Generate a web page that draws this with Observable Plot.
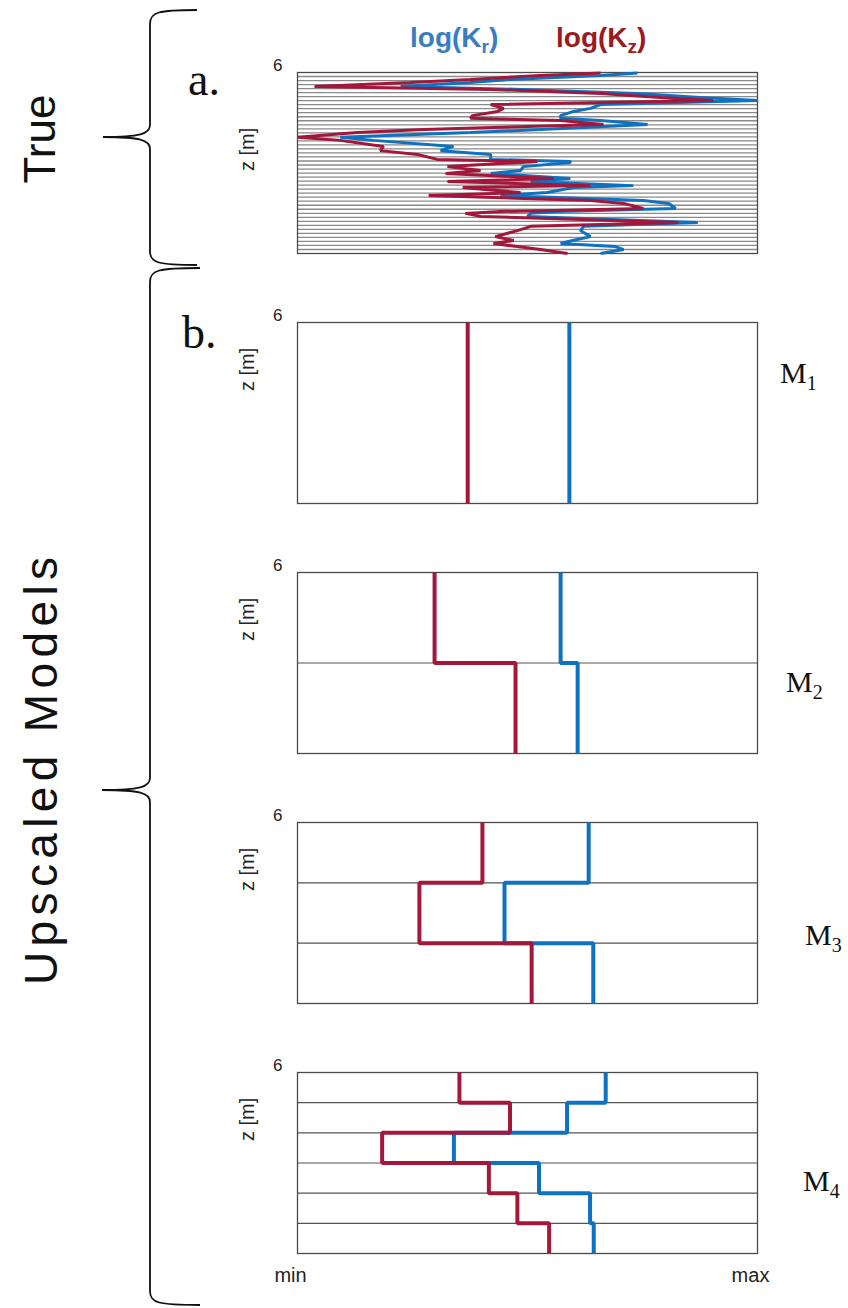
<!DOCTYPE html>
<html><head><meta charset="utf-8">
<script src="https://cdn.jsdelivr.net/npm/d3@7"></script>
<script src="https://cdn.jsdelivr.net/npm/@observablehq/plot@0.6"></script>
<style>
body{margin:0;background:#fff;}
#root{position:relative;width:848px;height:1308px;overflow:hidden;font-family:"Liberation Sans",Arial,sans-serif;}
.panel{position:absolute;left:0;}
#overlay{position:absolute;left:0;top:0;pointer-events:none;}
</style></head><body><div id="root"></div>
<script>
// ---------- data ----------
// True (fine-scale) profile: depth z [m] and normalised log K (0 = min, 1 = max)
const trueZ  = [5.98,5.90,5.77,5.67,5.54,5.44,5.30,5.17,5.07,4.94,4.81,4.71,4.57,4.48,4.41,4.28,4.11,4.01,3.85,3.75,3.55,3.41,3.28,3.12,3.05,3.02,2.88,2.75,2.65,2.49,2.39,2.25,2.19,2.02,1.92,1.76,1.66,1.49,1.39,1.33,1.23,1.03,0.90,0.76,0.56,0.43,0.33,0.23,0.13,0.00];
const trueKr = [0.739,0.659,0.463,0.376,0.224,0.485,0.739,0.876,1.000,0.659,0.637,0.600,0.572,0.572,0.659,0.761,0.528,0.376,0.093,0.165,0.339,0.311,0.420,0.420,0.593,0.593,0.491,0.485,0.420,0.593,0.507,0.730,0.600,0.543,0.441,0.752,0.807,0.822,0.565,0.507,0.500,0.870,0.622,0.615,0.637,0.598,0.572,0.691,0.709,0.659];
const trueKz = [0.659,0.528,0.376,0.246,0.037,0.420,0.659,0.789,0.904,0.420,0.448,0.435,0.380,0.376,0.572,0.665,0.274,0.130,0.000,0.093,0.187,0.180,0.261,0.304,0.522,0.485,0.326,0.398,0.322,0.557,0.326,0.637,0.359,0.485,0.285,0.637,0.709,0.752,0.441,0.365,0.398,0.828,0.507,0.478,0.430,0.470,0.426,0.478,0.528,0.587];
const trueLayerCount = 45;

// Upscaled models: one value per layer, layers listed top (z=6) to bottom (z=0)
const modelNames = ["M", "M", "M", "M"];
const modelSubs  = ["1", "2", "3", "4"];
const m1Kr = [0.591];
const m1Kz = [0.370];
const m2Kr = [0.572, 0.609];
const m2Kz = [0.298, 0.474];
const m3Kr = [0.633, 0.450, 0.643];
const m3Kz = [0.402, 0.265, 0.509];
const m4Kr = [0.670, 0.586, 0.340, 0.525, 0.636, 0.644];
const m4Kz = [0.352, 0.462, 0.184, 0.416, 0.478, 0.547];

const xTickLabels = ["min", "max"];
const xTickValues = [0, 1];
const zTopTick = 6;
const zLabel = "z [m]";

// ---------- style ----------
const BLUE = "#0f72c1", RED = "#a3173b";
const W = 848, ML = 297, MR = 91, FH = 181;
const frameTops = [72, 322, 572, 822, 1072];

const root = document.getElementById("root");

function stepPoints(vals) {
  const n = vals.length, pts = [];
  vals.forEach((v, i) => {
    pts.push({x: v, z: 6 - 6 * i / n});
    pts.push({x: v, z: 6 - 6 * (i + 1) / n});
  });
  return pts;
}

function panel(opts) {
  const mt = 30, mb = opts.bottomLabels ? 45 : 20;
  const marks = [
    Plot.ruleY(opts.boundaries, {stroke: opts.gridColor, strokeWidth: opts.gridWidth}),
    Plot.frame({stroke: "#4a4a4a", strokeWidth: 1.3}),
    Plot.line(opts.blue, {x: "x", y: "z", stroke: BLUE, strokeWidth: opts.lw, strokeLinejoin: "miter", strokeLinecap: "butt"}),
    Plot.line(opts.red, {x: "x", y: "z", stroke: RED, strokeWidth: opts.lw, strokeLinejoin: "miter", strokeLinecap: "butt"}),
    Plot.text([zTopTick], {x: () => 0, y: d => d, text: d => String(d), textAnchor: "end", dx: -15, dy: -7, fontSize: 17, fill: "#222"}),
    Plot.text([zLabel], {frameAnchor: "left", rotate: -90, dx: -50, dy: opts.zdy, fontSize: 20, fill: "#222"})
  ];
  if (opts.bottomLabels) {
    marks.push(Plot.text(xTickLabels, {x: (d, i) => xTickValues[i], frameAnchor: "bottom", dy: 28, dx: -7, text: d => d, fontSize: 20, fill: "#222"}));
  }
  const p = Plot.plot({
    width: W, height: FH + mt + mb,
    marginLeft: ML, marginRight: MR, marginTop: mt, marginBottom: mb,
    x: {domain: [0, 1], axis: null},
    y: {domain: [0, 6], axis: null},
    style: {fontFamily: "Liberation Sans, Arial, sans-serif", overflow: "visible", background: "transparent"},
    marks
  });
  const div = document.createElement("div");
  div.className = "panel";
  div.style.top = (opts.top - mt) + "px";
  div.appendChild(p);
  root.appendChild(div);
}

// panel a: true profile
const trueBounds = d3.range(1, trueLayerCount).map(i => 6 * i / trueLayerCount);
panel({
  top: frameTops[0],
  boundaries: trueBounds, gridColor: "#8a8a8a", gridWidth: 1.3,
  blue: trueZ.map((z, i) => ({x: trueKr[i], z})),
  red: trueZ.map((z, i) => ({x: trueKz[i], z})),
  lw: 3, zdy: 8
});

const models = [[m1Kr, m1Kz], [m2Kr, m2Kz], [m3Kr, m3Kz], [m4Kr, m4Kz]];
models.forEach(([kr, kz], k) => {
  const n = kr.length;
  panel({
    top: frameTops[k + 1],
    boundaries: d3.range(1, n).map(i => 6 * i / n), gridColor: "#555", gridWidth: 1.1,
    blue: stepPoints(kr), red: stepPoints(kz),
    lw: 4, zdy: -22, bottomLabels: k === 3
  });
});

// ---------- annotations (braces, titles, legend) ----------
const ns = "http://www.w3.org/2000/svg";
const svg = document.createElementNS(ns, "svg");
svg.setAttribute("id", "overlay");
svg.setAttribute("width", W); svg.setAttribute("height", 1308);
root.appendChild(svg);

function brace(xLine, xTip, xEnd, y1, ym, y2) {
  const p = document.createElementNS(ns, "path");
  const d = `M${xEnd},${y1} C${xLine + 8},${y1} ${xLine},${y1 + 2} ${xLine},${y1 + 14}
    L${xLine},${ym - 12} C${xLine},${ym - 3} ${xLine - 10},${ym} ${xTip},${ym}
    C${xLine - 10},${ym} ${xLine},${ym + 3} ${xLine},${ym + 12}
    L${xLine},${y2 - 14} C${xLine},${y2 - 2} ${xLine + 8},${y2} ${xEnd},${y2}`;
  p.setAttribute("d", d);
  p.setAttribute("fill", "none");
  p.setAttribute("stroke", "#111");
  p.setAttribute("stroke-width", "1.8");
  svg.appendChild(p);
}
brace(150, 103, 197, 10, 137, 265);
brace(150, 102, 200, 268, 790, 1305);

function txt(x, y, parts, attrs) {
  const t = document.createElementNS(ns, "text");
  t.setAttribute("x", x); t.setAttribute("y", y);
  for (const k in attrs) t.setAttribute(k, attrs[k]);
  parts.forEach(pt => {
    const s = document.createElementNS(ns, "tspan");
    s.textContent = pt.t;
    if (pt.sub) { s.setAttribute("font-size", pt.size); s.setAttribute("dy", pt.dy); }
    else if (pt.dy) s.setAttribute("dy", pt.dy);
    s.setAttribute("fill", pt.fill || attrs.fill || "#111");
    t.appendChild(s);
  });
  svg.appendChild(t);
  return t;
}
// legend
txt(410, 47, [{t: "log(K"}, {t: "r", sub: true, size: 19, dy: 6}, {t: ")", dy: -6}],
  {"font-family": "Liberation Sans, Arial, sans-serif", "font-weight": "bold", "font-size": 28, fill: "#3a7dc0"});
txt(556, 47, [{t: "log(K"}, {t: "z", sub: true, size: 19, dy: 6}, {t: ")", dy: -6}],
  {"font-family": "Liberation Sans, Arial, sans-serif", "font-weight": "bold", "font-size": 28, fill: "#9a1a1e"});
// panel letters
const serif = "Liberation Serif, Times New Roman, serif";
txt(188, 95, [{t: "a."}], {"font-family": serif, "font-size": 46, fill: "#111"});
txt(182, 348, [{t: "b."}], {"font-family": serif, "font-size": 46, fill: "#111"});
// model labels
const mPos = [[780, 383], [786, 692], [805, 945], [803, 1191]];
modelNames.forEach((m, i) => {
  txt(mPos[i][0], mPos[i][1], [{t: m}, {t: modelSubs[i], sub: true, size: 20, dy: 7}],
    {"font-family": serif, "font-size": 30, fill: "#111"});
});
// side titles
txt(0, 0, [{t: "True"}], {"font-family": "Liberation Sans, Arial, sans-serif", "font-size": 44, fill: "#111", "text-anchor": "middle", transform: "translate(55,139) rotate(-90)"});
txt(0, 0, [{t: "Upscaled Models"}], {"font-family": "Liberation Sans, Arial, sans-serif", "font-size": 46, fill: "#111", "text-anchor": "middle", textLength: 428, lengthAdjust: "spacing", transform: "translate(57,771) rotate(-90)"});
</script></body></html>
